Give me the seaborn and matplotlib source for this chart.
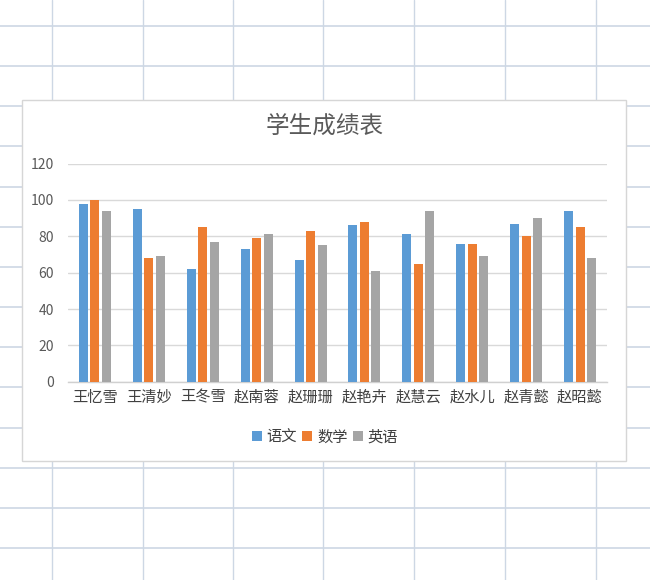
import matplotlib
matplotlib.use("Agg")
import matplotlib.pyplot as plt
from matplotlib.lines import Line2D
from matplotlib.patches import Rectangle
import seaborn as sns
import pandas as pd

names = ["王忆雪", "王清妙", "王冬雪", "赵南蓉", "赵珊珊", "赵艳卉", "赵慧云", "赵水儿", "赵青懿", "赵昭懿"]
subjects = ["语文", "数学", "英语"]
chinese = [98, 95, 62, 73, 67, 86, 81, 76, 87, 94]
math = [100, 68, 85, 79, 83, 88, 65, 76, 80, 85]
english = [94, 69, 77, 81, 75, 61, 94, 69, 90, 68]
yticks = [0, 20, 40, 60, 80, 100, 120]
title = "学生成绩表"

rows = []
for subj, vals in zip(subjects, [chinese, math, english]):
    for n, v in zip(names, vals):
        rows.append({"name": n, "subject": subj, "score": v})
df = pd.DataFrame(rows)

sns.set_theme(style="white")
plt.rcParams["font.family"] = ["Noto Sans CJK SC", "DejaVu Sans"]

W, H = 650, 580
fig = plt.figure(figsize=(6.5, 5.8), dpi=100)
fig.patch.set_facecolor("white")

# spreadsheet background grid
gcol = "#cdd7e4"
for x in [52, 143, 233, 323, 414, 505, 596]:
    fig.add_artist(Line2D([x / W, x / W], [0, 1], transform=fig.transFigure,
                          color=gcol, lw=1.0, zorder=0.5))
for k in range(14):
    y = 26 + 40.15 * k
    fig.add_artist(Line2D([0, 1], [1 - y / H, 1 - y / H], transform=fig.transFigure,
                          color=gcol, lw=1.2, zorder=0.5))

# chart box
bx0, by0, bx1, by1 = 22, 100, 626, 461
fig.add_artist(Rectangle((bx0 / W, 1 - by1 / H), (bx1 - bx0) / W, (by1 - by0) / H,
                         transform=fig.transFigure, facecolor="white",
                         edgecolor="#d6d6d6", lw=1.0, zorder=1))

ax = fig.add_axes([68 / W, 1 - 381.7 / H, (607 - 68) / W, (381.7 - 163.6) / H])
ax.set_zorder(3)
ax.patch.set_alpha(0)

palette = {"语文": "#5B9BD5", "数学": "#ED7D31", "英语": "#A5A5A5"}
sns.barplot(data=df, x="name", y="score", hue="subject", order=names,
            hue_order=subjects, palette=palette, width=0.64, gap=0.22,
            saturation=1, linewidth=0, ax=ax, legend=True, zorder=3)

ax.set_ylim(0, 120)
ax.set_xlim(-0.5, len(names) - 0.5)
ax.set_yticks(yticks)
ax.set_yticklabels([str(t) for t in yticks])
ax.yaxis.grid(True, color="#d9d9d9", lw=1.0)
ax.set_axisbelow(True)
for s in ["top", "right", "left"]:
    ax.spines[s].set_visible(False)
ax.spines["bottom"].set_color("#d0d0d0")
ax.spines["bottom"].set_linewidth(1.0)
ax.tick_params(axis="y", length=0, labelsize=10, labelcolor="#595959", pad=10)
ax.tick_params(axis="x", length=0, labelsize=11, labelcolor="#404040", pad=5)
ax.set_xlabel("")
ax.set_ylabel("")

leg = ax.legend(loc="center", bbox_to_anchor=(325 / W, 1 - 437 / H),
                bbox_transform=fig.transFigure, ncol=3, frameon=False,
                handlelength=0.65, handleheight=0.65, handletextpad=0.3,
                columnspacing=0.35, fontsize=11)
for t in leg.get_texts():
    t.set_color("#404040")

fig.text(325 / W, 1 - 126 / H, title, ha="center", va="center",
         fontsize=17, color="#5a5a5a", fontweight="light", zorder=4)

fig.savefig("out.png", dpi=100)
